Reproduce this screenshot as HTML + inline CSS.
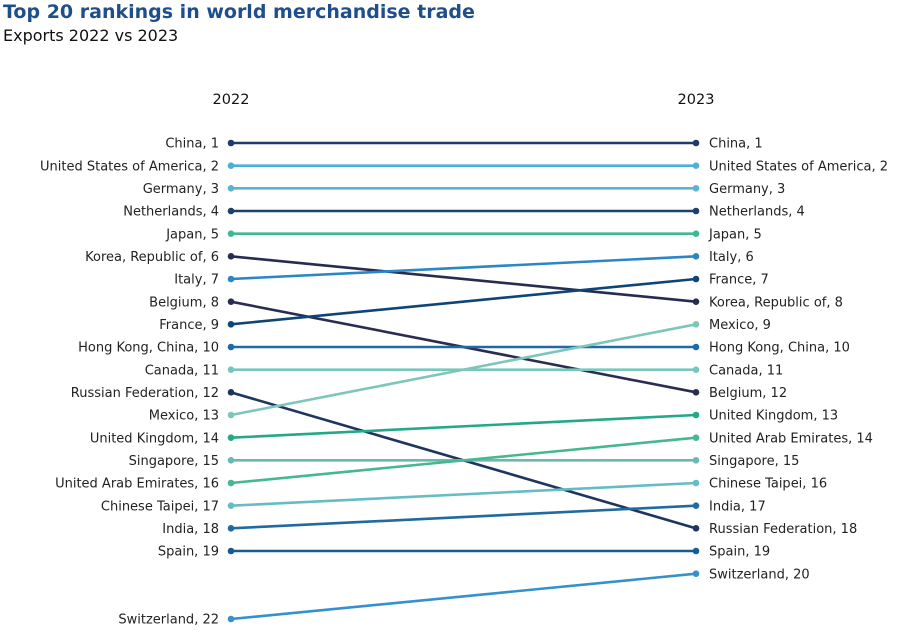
<!DOCTYPE html>
<html><head><meta charset="utf-8"><style>
body{margin:0;background:#fff;width:900px;height:637px;overflow:hidden;font-family:"DejaVu Sans","Liberation Sans",sans-serif}
</style></head><body>
<svg width="900" height="637" xmlns="http://www.w3.org/2000/svg" font-family="DejaVu Sans, Liberation Sans, sans-serif">
<text x="3" y="18" font-size="19" font-weight="bold" fill="#1f4e8c">Top 20 rankings in world merchandise trade</text>
<text x="3" y="41" font-size="16" fill="#111">Exports 2022 vs 2023</text>
<text x="231" y="104" font-size="14.5" fill="#111" text-anchor="middle">2022</text>
<text x="696" y="104" font-size="14.5" fill="#111" text-anchor="middle">2023</text>
<g id="g"></g>
</svg>
<script>
const d=[["China",1,1,"#1f3a68"],["United States of America",2,2,"#4eaedb"],["Germany",3,3,"#5ab4cf"],["Netherlands",4,4,"#1c3f6e"],["Japan",5,5,"#3cb893"],["Korea, Republic of",6,8,"#262b50"],["Italy",7,6,"#2a86c6"],["Belgium",8,12,"#2a2c52"],["France",9,7,"#0e4577"],["Hong Kong, China",10,10,"#1f6aa5"],["Canada",11,11,"#79c7bc"],["Russian Federation",12,18,"#1e3560"],["Mexico",13,9,"#7ec6ba"],["United Kingdom",14,13,"#23a888"],["Singapore",15,15,"#6bb8b0"],["United Arab Emirates",16,14,"#45b88e"],["Chinese Taipei",17,16,"#66bcc4"],["India",18,17,"#1f6aa0"],["Spain",19,19,"#135c95"],["Switzerland",22,20,"#3590cd"]];
const Y=r=>143+(r-1)*22.667;let s="";
for(const [n,a,b,c] of d){const y1=Y(a),y2=Y(b);
s+=`<line x1="231" y1="${y1}" x2="696" y2="${y2}" stroke="${c}" stroke-width="2.6"/><circle cx="231" cy="${y1}" r="3.3" fill="${c}"/><circle cx="696" cy="${y2}" r="3.3" fill="${c}"/>`;
s+=`<text x="219" y="${y1+4.6}" font-size="13" fill="#222" text-anchor="end">${n}, ${a}</text><text x="709" y="${y2+4.6}" font-size="13" fill="#222">${n}, ${b}</text>`;}
document.getElementById("g").innerHTML=s;
</script>
</body></html>
